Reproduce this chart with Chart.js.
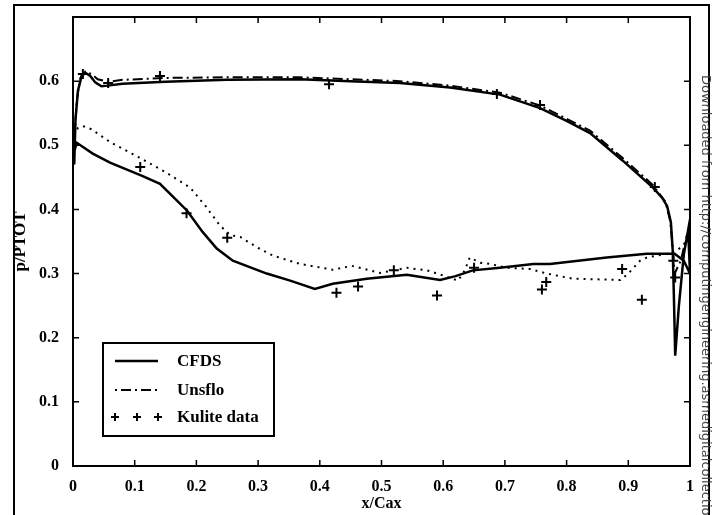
<!DOCTYPE html>
<html>
<head>
<meta charset="utf-8">
<script src="https://cdn.jsdelivr.net/npm/chart.js@4.4.1/dist/chart.umd.min.js"></script>
<style>
  body { margin: 0; background: #fff; }
  #wrap { position: relative; width: 713px; height: 515px; }
</style>
</head>
<body>
<div id="wrap"><canvas id="myChart" width="713" height="515"></canvas></div>
<script>
// [x/Cax, p/PTOT] pairs
const cfdsUpper = [[0.002,0.470],[0.004,0.540],[0.008,0.585],[0.014,0.608],[0.020,0.613],[0.028,0.608],[0.036,0.598],[0.046,0.592],[0.056,0.593],[0.080,0.596],[0.150,0.599],[0.250,0.602],[0.368,0.603],[0.449,0.600],[0.530,0.597],[0.611,0.590],[0.692,0.579],[0.757,0.558],[0.800,0.538],[0.838,0.519],[0.891,0.476],[0.940,0.434],[0.955,0.418],[0.963,0.405],[0.969,0.380],[0.972,0.336],[0.974,0.260],[0.976,0.172]];
const cfdsTrailing = [[0.982,0.250],[0.990,0.330],[0.997,0.368],[1.000,0.300],[0.990,0.320]];
const cfdsLower = [[0.975,0.331],[0.968,0.331],[0.930,0.331],[0.865,0.325],[0.773,0.315],[0.746,0.315],[0.692,0.309],[0.648,0.305],[0.620,0.296],[0.595,0.290],[0.541,0.298],[0.476,0.292],[0.421,0.284],[0.392,0.276],[0.352,0.289],[0.314,0.300],[0.259,0.320],[0.233,0.339],[0.210,0.365],[0.185,0.398],[0.141,0.440],[0.113,0.452],[0.060,0.473],[0.032,0.487],[0.015,0.498],[0.006,0.504],[0.002,0.490],[0.000,0.470]];
const unsfloUpper = [[0.002,0.500],[0.006,0.570],[0.012,0.605],[0.020,0.615],[0.030,0.611],[0.040,0.603],[0.057,0.599],[0.080,0.602],[0.150,0.605],[0.250,0.606],[0.368,0.606],[0.449,0.603],[0.530,0.600],[0.611,0.593],[0.692,0.582],[0.757,0.562],[0.838,0.523],[0.891,0.480],[0.940,0.438],[0.960,0.412],[0.968,0.382],[0.972,0.340],[0.975,0.300],[0.985,0.320],[0.995,0.360]];
const unsfloLower = [[0.002,0.515],[0.008,0.527],[0.016,0.530],[0.030,0.525],[0.060,0.505],[0.113,0.478],[0.150,0.458],[0.190,0.434],[0.215,0.405],[0.238,0.375],[0.255,0.360],[0.271,0.357],[0.300,0.340],[0.324,0.328],[0.368,0.315],[0.421,0.306],[0.452,0.312],[0.498,0.301],[0.541,0.309],[0.574,0.305],[0.600,0.297],[0.624,0.289],[0.635,0.305],[0.643,0.325],[0.660,0.317],[0.676,0.315],[0.703,0.309],[0.741,0.307],[0.768,0.300],[0.810,0.292],[0.887,0.290],[0.900,0.300],[0.919,0.320],[0.930,0.325],[0.963,0.331],[0.979,0.336],[0.990,0.345],[0.997,0.360]];
const kuliteData = [[0.016,0.611],[0.057,0.597],[0.141,0.608],[0.415,0.595],[0.687,0.580],[0.757,0.563],[0.943,0.435],[0.109,0.466],[0.184,0.394],[0.250,0.356],[0.427,0.270],[0.462,0.280],[0.520,0.305],[0.590,0.266],[0.650,0.309],[0.760,0.275],[0.767,0.287],[0.890,0.307],[0.922,0.259],[0.973,0.320],[0.976,0.294]];

const xTickLabels = ['0','0.1','0.2','0.3','0.4','0.5','0.6','0.7','0.8','0.9','1'];
const yTickLabels = ['0','0.1','0.2','0.3','0.4','0.5','0.6'];
const legendLabels = ['CFDS','Unsflo','Kulite data'];
const watermark = 'Downloaded from http://computingengineering.asmedigitalcollection.asme.org/';

const toPoints = arr => arr.map(p => ({x: p[0], y: p[1]}));
const serif = '"Liberation Serif", "Times New Roman", serif';
Chart.defaults.font.family = serif;
Chart.defaults.font.size = 16;
Chart.defaults.font.weight = 'bold';
Chart.defaults.color = '#000';

// box round the plot, inward ticks, legend and page frame
const framePlugin = {
    id: 'frame',
    afterDatasetsDraw(chart) {
        const ctx = chart.ctx;
        const a = chart.chartArea;
        const xs = chart.scales.x, ys = chart.scales.y;
        ctx.save();
        ctx.strokeStyle = '#000';
        ctx.lineWidth = 2;
        ctx.strokeRect(a.left, a.top, a.right - a.left, a.bottom - a.top);
        ctx.lineWidth = 1.5;
        ctx.beginPath();
        xs.ticks.forEach(t => {
            const px = xs.getPixelForValue(t.value);
            ctx.moveTo(px, a.bottom); ctx.lineTo(px, a.bottom - 6);
            ctx.moveTo(px, a.top); ctx.lineTo(px, a.top + 6);
        });
        ys.ticks.forEach(t => {
            const py = ys.getPixelForValue(t.value);
            ctx.moveTo(a.left, py); ctx.lineTo(a.left + 6, py);
            ctx.moveTo(a.right, py); ctx.lineTo(a.right - 6, py);
        });
        ctx.stroke();

        // legend box
        const lx = 103, ly = 343, lw = 171, lh = 93;
        ctx.fillStyle = '#fff';
        ctx.fillRect(lx, ly, lw, lh);
        ctx.lineWidth = 2;
        ctx.strokeRect(lx, ly, lw, lh);
        const rows = [361, 390, 417];
        ctx.font = 'bold 17px ' + serif;
        ctx.textBaseline = 'middle';
        ctx.textAlign = 'left';
        ctx.fillStyle = '#000';
        legendLabels.forEach((label, i) => {
            const ds = chart.data.datasets[i];
            const y = rows[i];
            if (i < 2) {
                ctx.lineWidth = ds.borderWidth;
                ctx.setLineDash(ds.borderDash || []);
                ctx.beginPath();
                ctx.moveTo(115, y); ctx.lineTo(158, y);
                ctx.stroke();
                ctx.setLineDash([]);
            } else {
                ctx.lineWidth = 2;
                [115, 137, 158].forEach(cx => {
                    ctx.beginPath();
                    ctx.moveTo(cx - 4, y); ctx.lineTo(cx + 4, y);
                    ctx.moveTo(cx, y - 4); ctx.lineTo(cx, y + 4);
                    ctx.stroke();
                });
            }
            ctx.fillText(label, 177, y + 1);
        });
        ctx.restore();
    },
    afterDraw(chart) {
        const ctx = chart.ctx;
        ctx.save();
        ctx.strokeStyle = '#000';
        ctx.lineWidth = 2;
        ctx.beginPath();
        ctx.moveTo(14, 520); ctx.lineTo(14, 5); ctx.lineTo(709, 5); ctx.lineTo(709, 520);
        ctx.stroke();
        ctx.translate(705, 75);
        ctx.rotate(Math.PI / 2);
        ctx.font = '13px "DejaVu Sans", sans-serif';
        ctx.fillStyle = '#444';
        ctx.textBaseline = 'middle';
        ctx.fillText(watermark, 0, 0);
        ctx.restore();
    }
};

const ctx = document.getElementById('myChart');
const myChart = new Chart(ctx, {
    type: 'scatter',
    data: {
        datasets: [
            {label: 'CFDS', data: toPoints(cfdsUpper.concat(cfdsTrailing, cfdsLower)), showLine: true,
             borderColor: '#000', borderWidth: 2.5, pointRadius: 0, tension: 0},
            {label: 'Unsflo', data: toPoints(unsfloUpper), showLine: true,
             borderColor: '#000', borderWidth: 2, borderDash: [2, 4, 10, 4], pointRadius: 0, tension: 0},
            {label: 'Kulite data', data: toPoints(kuliteData), showLine: false,
             pointStyle: 'cross', pointRadius: 5, borderColor: '#000', borderWidth: 2},
            {label: 'Unsflo lower', data: toPoints(unsfloLower), showLine: true,
             borderColor: '#000', borderWidth: 2, borderDash: [2, 5], pointRadius: 0, tension: 0}
        ]
    },
    options: {
        responsive: false,
        animation: false,
        devicePixelRatio: 1,
        layout: {padding: {left: 0, right: 23, top: 17, bottom: 0}},
        plugins: {legend: {display: false}, tooltip: {enabled: false}},
        scales: {
            x: {
                type: 'linear', min: 0, max: 1,
                grid: {display: false}, border: {display: false},
                ticks: {stepSize: 0.1, padding: 3, maxRotation: 0, autoSkip: false,
                        callback: (v, i) => xTickLabels[i] ?? ''},
                title: {display: true, text: 'x/Cax', padding: {top: 0, bottom: 2}},
                afterFit: s => { s.height = 49; }
            },
            y: {
                type: 'linear', min: 0, max: 0.7,
                grid: {display: false}, border: {display: false},
                ticks: {stepSize: 0.1, padding: 6, autoSkip: false,
                        callback: (v, i) => yTickLabels[i] ?? ''},
                title: {display: true, text: 'p/PTOT', font: {size: 17}, padding: {top: 10, bottom: 0}},
                afterFit: s => { s.width = 73; }
            }
        }
    },
    plugins: [framePlugin]
});
</script>
</body>
</html>
